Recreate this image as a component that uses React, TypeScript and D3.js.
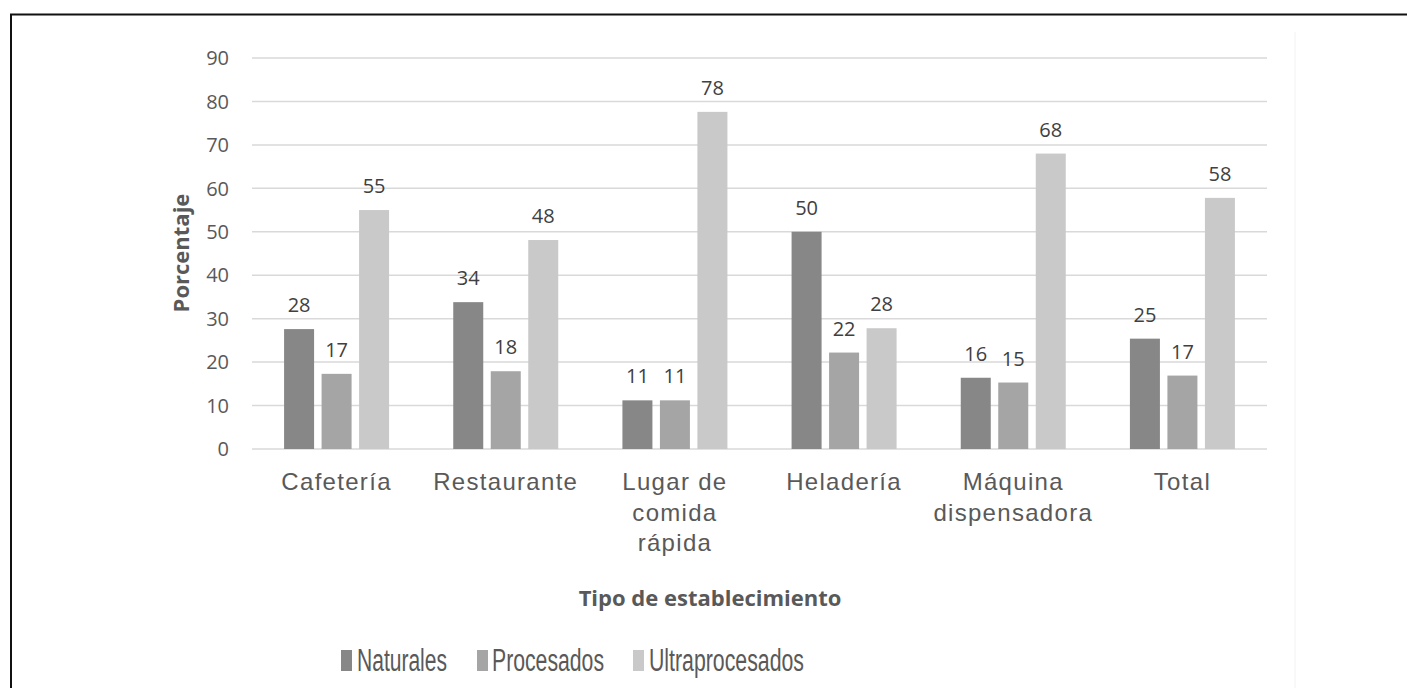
import React from "react";
import * as d3 from "d3";

const categories: string[][] = [
  ["Cafetería"],
  ["Restaurante"],
  ["Lugar de", "comida", "rápida"],
  ["Heladería"],
  ["Máquina", "dispensadora"],
  ["Total"],
];
const seriesNames = ["Naturales", "Procesados", "Ultraprocesados"];
const naturales = [27.6, 33.8, 11.2, 50.0, 16.4, 25.4];
const procesados = [17.3, 17.9, 11.2, 22.2, 15.3, 16.9];
const ultraprocesados = [55.0, 48.1, 77.6, 27.8, 68.0, 57.8];
const yTicks = [0, 10, 20, 30, 40, 50, 60, 70, 80, 90];
const colors = ["#878787", "#a5a5a5", "#c9c9c9"];

const W = 1407;
const H = 688;
const plotLeft = 252;
const plotRight = 1267;
const plotTop = 58;
const plotBottom = 449;
const textColor = "#595959";

export default function App() {
  const series = [naturales, procesados, ultraprocesados];
  const x = d3
    .scaleBand<number>()
    .domain(d3.range(categories.length))
    .range([plotLeft, plotRight])
    .paddingInner(0)
    .paddingOuter(0);
  const y = d3.scaleLinear().domain([0, 90]).range([plotBottom, plotTop]);
  const barW = 30;
  const gap = 7.5;
  const groupW = barW * 3 + gap * 2;

  const legendItems = [
    { sq: 341, tx: 357, len: 90 },
    { sq: 477, tx: 492, len: 112 },
    { sq: 633, tx: 649, len: 155 },
  ];

  return (
    <svg
      width={W}
      height={H}
      style={{ position: "fixed", left: 0, top: 0, background: "#fff" }}
    >
      <rect x={0} y={0} width={W} height={H} fill="#fff" />
      <rect
        x={11}
        y={14.5}
        width={W}
        height={H}
        fill="none"
        stroke="#111"
        strokeWidth={2}
      />
      <line x1={1295} x2={1295} y1={32} y2={H} stroke="#f2f2f2" strokeWidth={1} />
      {yTicks.map((t) => (
        <g key={t}>
          <line
            x1={plotLeft}
            x2={plotRight}
            y1={y(t)}
            y2={y(t)}
            stroke="#d9d9d9"
            strokeWidth={1.5}
          />
          <text
            x={229}
            y={y(t)}
            dy="0.36em"
            textAnchor="end"
            fontFamily="'Open Sans', sans-serif"
            fontSize={20}
            fill={textColor}
          >
            {t}
          </text>
        </g>
      ))}
      {categories.map((c, i) => {
        const cx = (x(i) as number) + x.bandwidth() / 2;
        const x0 = cx - groupW / 2;
        return (
          <g key={i}>
            {series.map((s, j) => {
              const bx = x0 + j * (barW + gap);
              const v = s[i];
              return (
                <g key={j}>
                  <rect
                    x={bx}
                    y={y(v)}
                    width={barW}
                    height={plotBottom - y(v)}
                    fill={colors[j]}
                  />
                  <text
                    x={bx + barW / 2}
                    y={y(v) - 17}
                    textAnchor="middle"
                    fontFamily="'Open Sans', sans-serif"
                    fontSize={20}
                    fill="#404040"
                  >
                    {Math.round(v)}
                  </text>
                </g>
              );
            })}
            {c.map((line, k) => (
              <text
                key={k}
                x={cx}
                y={490 + k * 30.5}
                textAnchor="middle"
                fontFamily="'Liberation Sans', Arial, sans-serif"
                fontSize={24}
                letterSpacing={1.3}
                fill={textColor}
              >
                {line}
              </text>
            ))}
          </g>
        );
      })}
      <text
        x={710}
        y={606}
        textAnchor="middle"
        fontFamily="'Open Sans', sans-serif"
        fontWeight="bold"
        fontSize={22}
        fill={textColor}
      >
        Tipo de establecimiento
      </text>
      <text
        transform={`translate(189, 253) rotate(-90)`}
        textAnchor="middle"
        fontFamily="'Open Sans', sans-serif"
        fontWeight="bold"
        fontSize={22}
        fill={textColor}
      >
        Porcentaje
      </text>
      {seriesNames.map((n, i) => (
        <g key={n}>
          <rect
            x={legendItems[i].sq}
            y={650}
            width={11}
            height={21}
            fill={colors[i]}
          />
          <text
            x={legendItems[i].tx}
            y={671}
            fontFamily="'Liberation Sans', Arial, sans-serif"
            fontSize={31}
            textLength={legendItems[i].len}
            lengthAdjust="spacingAndGlyphs"
            fill={textColor}
          >
            {n}
          </text>
        </g>
      ))}
    </svg>
  );
}
